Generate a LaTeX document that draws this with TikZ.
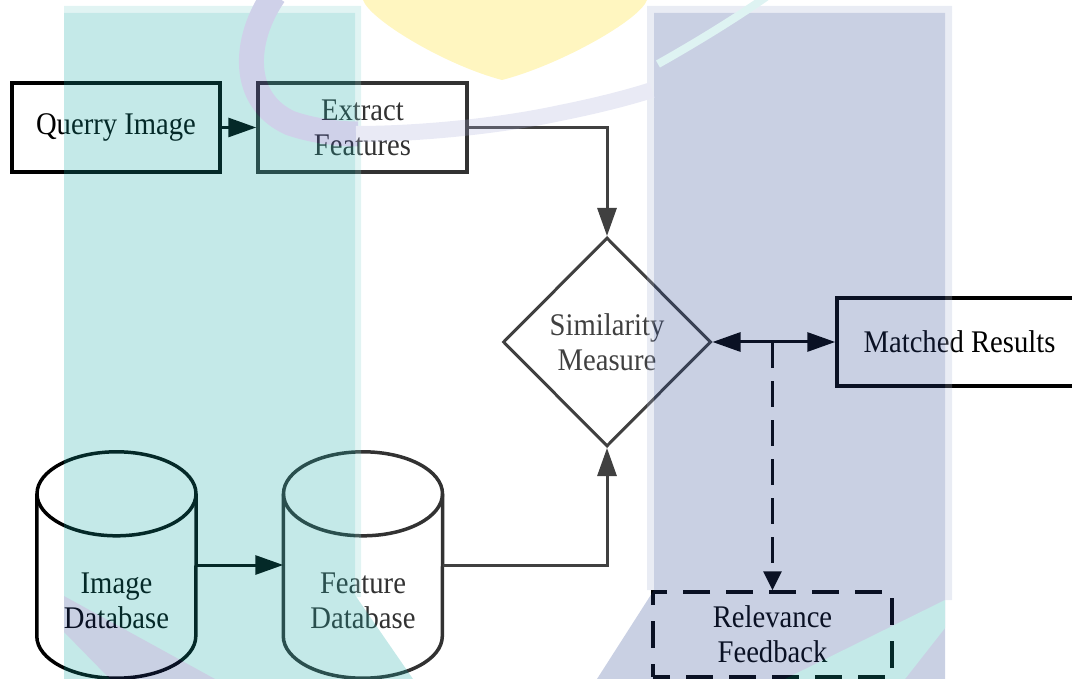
\documentclass[tikz,border=0pt]{standalone}
\usepackage{fontspec}
\setmainfont{Liberation Serif}[FakeStretch=0.91]
\usetikzlibrary{arrows.meta,shapes.geometric}

\definecolor{wmteal}{RGB}{19,167,163}
\definecolor{wmblue}{RGB}{40,68,145}
\definecolor{wmring}{RGB}{62,72,168}
\definecolor{wmgold}{RGB}{255,219,3}
\definecolor{linegrey}{RGB}{64,64,64}
\definecolor{darkgrey}{RGB}{50,50,50}

\begin{document}
\begin{tikzpicture}[x=1pt,y=-1pt,
  lbl/.style={font=\fontsize{31.5}{35}\selectfont, align=center, inner sep=0pt},
  boxnode/.style={lbl, draw, rectangle, line width=3.5pt},
  flowline/.style={line width=3pt, -{Triangle[length=28pt,width=19pt]}},
  cyl/.style={line width=3.5pt},
]
\useasboundingbox (0,0) rectangle (1072,679);

% ---- process boxes ----
\node[boxnode, minimum width=208pt, minimum height=89pt] (query) at (116,127.5) {Querry Image};
\node[boxnode, draw=darkgrey, text=darkgrey, minimum width=209pt, minimum height=89pt] (extract) at (362.5,127.5) {Extract\\Features};
\node[lbl, diamond, aspect=1, draw=linegrey, text=linegrey, line width=3pt,
      minimum width=208pt, minimum height=209pt] (sim) at (607,342) {Similarity\\Measure};
\node[boxnode, minimum width=245pt, minimum height=88pt] (match) at (959.5,342) {Matched Results};
\node[boxnode, dash pattern=on 27pt off 16pt, dash phase=10pt, minimum width=239pt, minimum height=85pt] (relev) at (772.5,634.5) {Relevance\\Feedback};

% ---- databases (cylinders) ----
\node[minimum width=159pt, minimum height=226pt, inner sep=0pt] (imgdb) at (116.5,565) {};
\node[minimum width=159pt, minimum height=226pt, inner sep=0pt] (featdb) at (363,565) {};
\node[lbl] (imgdbtext) at (116.5,600.5) {Image\\Database};
\node[lbl, text=darkgrey] (featdbtext) at (363,600.5) {Feature\\Database};

\draw[cyl] ([yshift=-42pt]imgdb.north west) -- ([yshift=42pt]imgdb.south west)
  arc[start angle=180, end angle=360, x radius=79.5pt, y radius=42pt]
  -- ([yshift=-42pt]imgdb.north east);
\draw[cyl] ([yshift=-42pt]imgdb.north) ellipse[x radius=79.5pt, y radius=42pt];

\draw[cyl, darkgrey] ([yshift=-42pt]featdb.north west) -- ([yshift=42pt]featdb.south west)
  arc[start angle=180, end angle=360, x radius=79.5pt, y radius=42pt]
  -- ([yshift=-42pt]featdb.north east);
\draw[cyl, darkgrey] ([yshift=-42pt]featdb.north) ellipse[x radius=79.5pt, y radius=42pt];

% ---- connectors ----
\draw[flowline] (query.east) -- (extract.west);
\draw[flowline, linegrey] (extract.east) -| (sim.north);
\draw[flowline] (imgdb.east) -- (featdb.west);
\draw[flowline, linegrey] (featdb.east) -| (sim.south);
\draw[line width=3pt, {Triangle[length=28pt,width=19pt]}-{Triangle[length=28pt,width=19pt]}] (sim.east) -- (match.west);
\draw[line width=3pt, dash pattern=on 26pt off 13pt, -{Triangle[length=19pt,width=18pt]}] (relev.north |- sim.east) -- (relev.north);

% ---- background emblem, laid over translucently ----
\begin{scope}[transparency group, opacity=0.25]
  % teal band
  \fill[wmteal!50] (64,6) rectangle (361,13);
  \fill[wmteal!50] (355,13) rectangle (361,597);
  \fill[wmteal] (64,13) rectangle (355,679);
  \fill[wmteal] (355,595) -- (413,679) -- (355,679) -- cycle;
  \fill[wmblue] (64,596) -- (215,679) -- (110,679) -- (64,632) -- cycle;
  % blue band
  \fill[wmblue!40] (647,6) rectangle (952,13);
  \fill[wmblue!40] (647,13) rectangle (654,590);
  \fill[wmblue!40] (945,13) rectangle (952,600);
  \fill[wmblue] (654,13) rectangle (945,679);
  \fill[wmblue] (654,590) -- (597,679) -- (654,679) -- cycle;
  \fill[wmteal] (785,679) -- (945,600) -- (945,628) -- (905,679) -- cycle;
  % gold shield
  \fill[wmgold] (363,0) -- (647,0) .. controls (640,20) and (560,65) .. (502,80)
    .. controls (445,65) and (370,20) .. (363,0) -- cycle;
  % ring: strong over the teal band, fading towards the right
  \draw[wmring, line width=25pt] (274,-5) .. controls (243,40) and (240,100) .. (290,123)
    .. controls (310,130) and (335,134) .. (358,134);
  \draw[wmring!45, line width=16pt] (356,134) .. controls (420,134) and (500,126) .. (560,113)
    .. controls (600,105) and (630,97) .. (652,90);
  \draw[wmteal!55, line width=8pt] (658,64) .. controls (690,46) and (730,22) .. (766,-3);
\end{scope}
\end{tikzpicture}
\end{document}
